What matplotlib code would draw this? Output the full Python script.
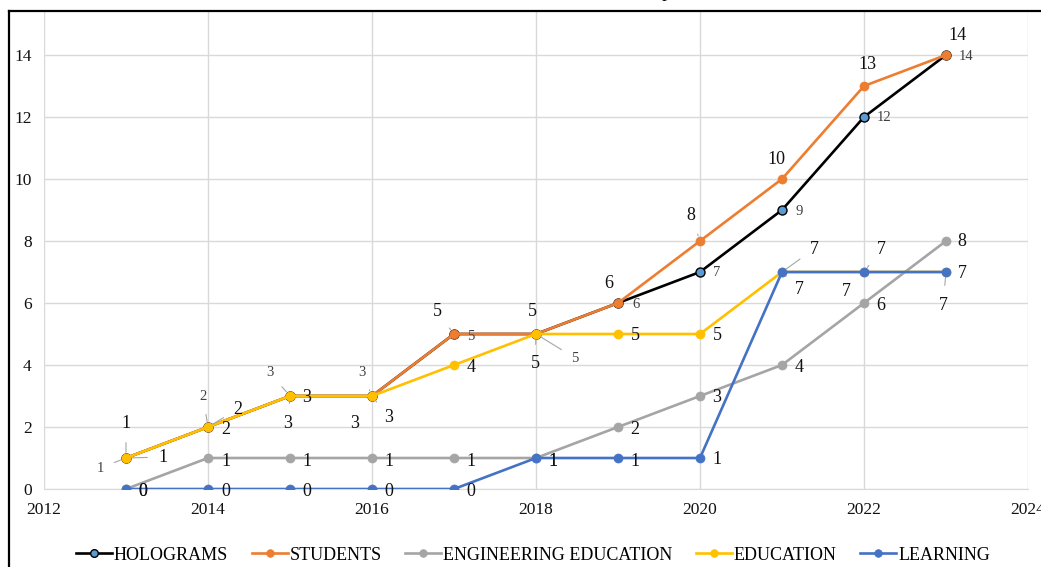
import matplotlib
matplotlib.use('Agg')
import matplotlib.pyplot as plt
from matplotlib.lines import Line2D

plt.rcParams['font.family'] = ['Liberation Serif', 'DejaVu Serif']

years = [2013, 2014, 2015, 2016, 2017, 2018, 2019, 2020, 2021, 2022, 2023]
holograms = [1, 2, 3, 3, 5, 5, 6, 7, 9, 12, 14]
students = [1, 2, 3, 3, 5, 5, 6, 8, 10, 13, 14]
eng_education = [0, 1, 1, 1, 1, 1, 2, 3, 4, 6, 8]
education = [1, 2, 3, 3, 4, 5, 5, 5, 7, 7, 7]
learning = [0, 0, 0, 0, 0, 1, 1, 1, 7, 7, 7]

names = ['HOLOGRAMS', 'STUDENTS', 'ENGINEERING EDUCATION', 'EDUCATION', 'LEARNING']
series = [holograms, students, eng_education, education, learning]

# styling: line colour, marker face, marker edge
line_col = ['black', '#ED7D31', '#A5A5A5', '#FFC000', '#4472C4']
face_col = ['#5B9BD5', '#ED7D31', '#A5A5A5', '#FFC000', '#4472C4']
edge_col = ['black', '#ED7D31', '#A5A5A5', '#FFC000', '#4472C4']

# data label offsets in pixels (dx right, dy down) as Excel placed them
offsets = [
    [(-26, 10), (-5, -30), (-20, -23), (-10, -23), (17, 2), (39, 24), (18, 2), (17, 1), (17, 1), (20, 0), (20, 1)],
    [(0, -35), (30, -18), (17, 1), (-17, 27), (-17, -22), (-4, -22), (-9, -19), (-9, -26), (-6, -20), (3, -22), (11, -19)],
    [(17, 2), (18, 3), (17, 3), (17, 3), (17, 3), (17, 3), (17, 3), (17, 2), (17, 2), (17, 2), (16, 1)],
    [(37, -1), (18, 3), (-2, 27), (17, 22), (17, 2), (-1, 30), (17, 2), (17, 2), (32, -23), (17, -23), (-3, 33)],
    [(17, 2), (18, 2), (17, 2), (17, 2), (17, 2), (17, 3), (17, 3), (17, 2), (17, 18), (-18, 19), (16, 1)],
]
leaders = [
    {0, 1, 2, 3, 5},
    {0, 1, 4, 7},
    set(),
    {0, 2, 3, 5, 8, 9, 10},
    {8},
]

W, H = 1041, 567
fig = plt.figure(figsize=(W / 100, H / 100), dpi=100)
ax = fig.add_axes([44 / W, 78 / H, (1028 - 44) / W, (489 - 12) / H])

for i, (name, vals) in enumerate(zip(names, series)):
    ax.plot(years, vals, color=line_col[i], lw=1.9, marker='o', ms=6.5,
            mfc=face_col[i], mec=edge_col[i], mew=1.0 if i == 0 else 0.5,
            label=name, zorder=3 + i)

for i, vals in enumerate(series):
    small = i == 0
    for j, (yr, v) in enumerate(zip(years, vals)):
        dx, dy = offsets[i][j]
        kw = {}
        if j in leaders[i]:
            kw['arrowprops'] = dict(arrowstyle='-', color='#a6a6a6', lw=0.8,
                                    shrinkA=6, shrinkB=4)
        ax.annotate(str(v), (yr, v), xytext=(dx, -dy), textcoords='offset pixels',
                    ha='center', va='center',
                    fontsize=10.5 if small else 13,
                    color='#404040' if small else '#111111', zorder=10, **kw)

ax.set_xlim(2012, 2024)
ax.set_ylim(0, (489 - 12) / 31)
ax.set_xticks(range(2012, 2025, 2))
ax.set_yticks(range(0, 15, 2))
ax.grid(True, color='#d9d9d9', lw=1.0)
ax.set_axisbelow(True)
for s in ['top', 'right', 'left']:
    ax.spines[s].set_visible(False)
ax.spines['bottom'].set_color('#d9d9d9')
ax.tick_params(length=0, labelsize=12.5, pad=9, colors='#111111')

fig.legend(loc='center', bbox_to_anchor=(533 / W, 1 - 555 / H), ncol=5,
           frameon=False, fontsize=13, handlelength=2.0, handletextpad=0.1,
           columnspacing=1.3, markerscale=0.85)

# frame of the cropped figure
fig.add_artist(Line2D([9 / W, 9 / W], [0, 1 - 11 / H], transform=fig.transFigure,
                      color='black', lw=1.6))
fig.add_artist(Line2D([9 / W, 1], [1 - 11 / H, 1 - 11 / H], transform=fig.transFigure,
                      color='black', lw=1.6))
fig.text(667 / W, 1 + 3 / H, 'p', fontsize=14, ha='center', va='baseline')

fig.savefig('out.png', dpi=100)
